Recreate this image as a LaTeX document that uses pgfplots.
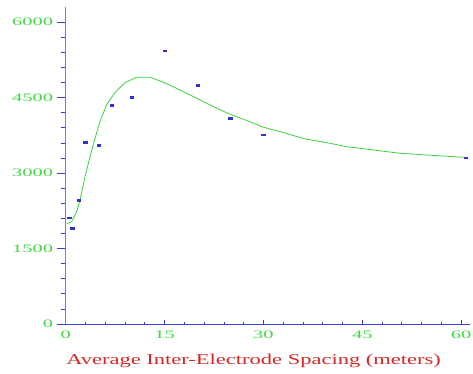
\documentclass[border=0pt]{standalone}
\usepackage{fontspec}
\usepackage{pgfplots}
\pgfplotsset{compat=1.18}
\setmainfont{Liberation Serif}
\newfontfamily\tickfont[FakeStretch=1.8]{Liberation Serif}
\newfontfamily\labfont[FakeStretch=1.5]{Liberation Serif}
\definecolor{axblue}{RGB}{60,60,215}
\definecolor{ptblue}{RGB}{50,50,210}
\definecolor{lgreen}{RGB}{60,210,60}
\definecolor{tgreen}{RGB}{70,215,70}
\definecolor{lred}{RGB}{210,40,40}
\begin{document}
\begin{tikzpicture}
\path[use as bounding box] (0,0) rectangle (473pt,374pt);
\begin{axis}[
  at={(65.7pt,50pt)}, anchor=south west,
  scale only axis, width=404pt, height=317pt,
  xmin=0, xmax=61.3, ymin=0, ymax=6300,
  axis y line=none, axis x line*=bottom,
  axis line style={axblue, line width=0.9pt},
  xtick={0,15,30,45,60}, minor x tick num=4,
  tick align=inside, major tick length=3.5pt, minor tick length=2pt,
  tick style={axblue, line width=0.7pt},
  xticklabel style={font=\tickfont\fontsize{11.4}{12}\selectfont, text=tgreen, yshift=-3.5pt},
  /pgf/number format/assume math mode=true,
  xlabel={Average Inter-Electrode Spacing (meters)},
  xlabel style={at={(axis description cs:0.465,0)}, anchor=base, yshift=-41pt,
    font=\labfont\fontsize{15}{16}\selectfont, text=lred},
  clip=false,
]
\addplot[lgreen, line width=0.8pt] coordinates {
(0.15,1988)(0.9,2034)(1.67,2233)(2.17,2465)(2.93,2928)(3.69,3326)(4.45,3690)
(5.2,4022)(6.2,4354)(7.5,4606)(9.0,4798)(10.8,4904)(12.8,4904)(15.1,4790)
(17.3,4652)(19.9,4487)(22.4,4320)(24.9,4170)(27.5,4043)(30,3911)(32.5,3824)
(36.1,3685)(40.1,3591)(42.6,3525)(50.7,3393)(60.7,3310)
};
\addplot[only marks, mark=square*, mark size=1.2pt, mark options={ptblue, xscale=1.5, yscale=0.75}] coordinates {
(0.5,2113)(1,1902)(2,2465)(3,3618)(5,3553)(7,4354)(10,4507)(15,5433)
(20,4751)(25,4082)(30,3764)(60.7,3306)
};
\end{axis}
\begin{axis}[
  at={(65.7pt,50pt)}, anchor=south west,
  scale only axis, width=404pt, height=317pt,
  xmin=0, xmax=61.3, ymin=0, ymax=6300,
  axis x line=none, axis y line*=left,
  axis line style={axblue!70, line width=1.4pt},
  ytick={0,1500,3000,4500,6000}, minor y tick num=4,
  tick align=outside, major tick length=9pt, minor tick length=5pt,
  tick style={axblue, line width=0.7pt},
  yticklabel style={font=\tickfont\fontsize{11.4}{12}\selectfont, text=tgreen},
  /pgf/number format/assume math mode=true,
  /pgf/number format/1000 sep={},
]
\addplot[draw=none] coordinates {(0,0)};
\end{axis}
\end{tikzpicture}
\end{document}
